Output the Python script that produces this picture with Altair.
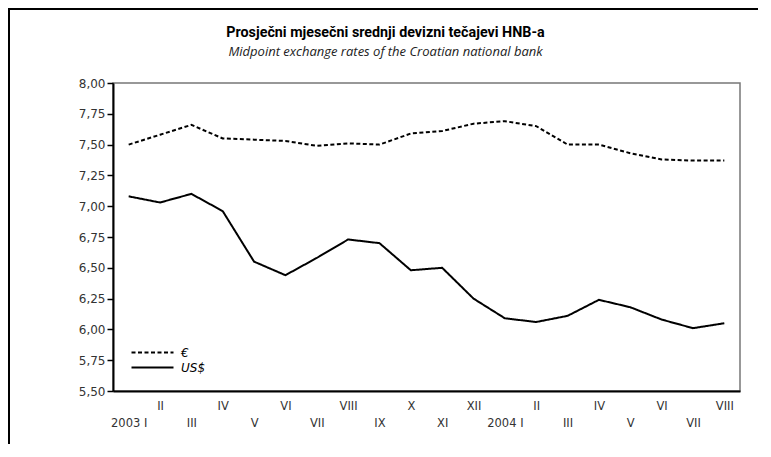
import json
import altair as alt
import pandas as pd

roman = ["I", "II", "III", "IV", "V", "VI", "VII", "VIII", "IX", "X", "XI", "XII"]
years = ["2003"] * 12 + ["2004"] * 8
months = roman + roman[:8]
periods = [f"{y} {m}" for y, m in zip(years, months)]

eur = [7.50, 7.58, 7.66, 7.55, 7.54, 7.53, 7.49, 7.51, 7.50, 7.59,
       7.61, 7.67, 7.69, 7.65, 7.50, 7.50, 7.43, 7.38, 7.37, 7.37]
usd = [7.08, 7.03, 7.10, 6.96, 6.55, 6.44, 6.58, 6.73, 6.70, 6.48,
       6.50, 6.25, 6.09, 6.06, 6.11, 6.24, 6.18, 6.08, 6.01, 6.05]
series_names = ["€", "US$"]
y_ticks = [5.50, 5.75, 6.00, 6.25, 6.50, 6.75, 7.00, 7.25, 7.50, 7.75, 8.00]
title_text = "Prosječni mjesečni srednji devizni tečajevi HNB-a"
subtitle_text = "Midpoint exchange rates of the Croatian national bank"

rows = []
for p, e, u in zip(periods, eur, usd):
    rows.append({"period": p, "series": series_names[0], "value": e})
    rows.append({"period": p, "series": series_names[1], "value": u})
df = pd.DataFrame(rows)

label_map = {}
for i, p in enumerate(periods):
    txt = p if months[i] == "I" else months[i]
    label_map[p] = ["", txt] if i % 2 == 0 else txt
x_label_expr = "(" + json.dumps(label_map, ensure_ascii=False) + ")[datum.value]"

TICK_FONT = "DejaVu Sans"

lines = alt.Chart(df).mark_line(color="black", strokeWidth=2).encode(
    x=alt.X(
        "period:O",
        sort=periods,
        scale=alt.Scale(domain=periods),
        title=None,
        axis=alt.Axis(
            labelExpr=x_label_expr,
            labelAngle=0,
            ticks=False,
            domainWidth=2,
            domainColor="black",
            labelPadding=9,
            labelLineHeight=17.5,
            labelOverlap=False,
            labelFont=TICK_FONT,
            labelFontSize=11.5,
            labelColor="#333",
        ),
    ),
    y=alt.Y(
        "value:Q",
        scale=alt.Scale(domain=[5.5, 8.0], nice=False, zero=False),
        title=None,
        axis=alt.Axis(
            values=y_ticks,
            labelExpr="replace(format(datum.value, '.2f'), '.', ',')",
            grid=False,
            tickSize=6,
            tickColor="black",
            tickWidth=1.5,
            domainWidth=2,
            domainColor="black",
            labelPadding=2,
            labelFont=TICK_FONT,
            labelFontSize=12,
            labelColor="#333",
        ),
    ),
    strokeDash=alt.StrokeDash(
        "series:N",
        scale=alt.Scale(domain=series_names, range=[[4, 2.5], [1, 0]]),
        legend=alt.Legend(
            title=None,
            orient="none",
            legendX=31,
            legendY=261,
            padding=0,
            symbolType="M-2.8,0H2.8",
            symbolSize=225,
            symbolStrokeColor="black",
            symbolStrokeWidth=2,
            rowPadding=0,
            labelFont=TICK_FONT,
            labelFontStyle="italic",
            labelFontSize=12,
            labelColor="black",
            labelOffset=20,
        ),
    ),
)

frame = alt.Chart(alt.Data(values=[{"k": 1}])).mark_rule(color="black", strokeWidth=2).encode(
    x=alt.value(-104), y=alt.value(-74), y2=alt.value(400)
)
frame_top = alt.Chart(alt.Data(values=[{"k": 1}])).mark_rule(color="black", strokeWidth=2).encode(
    x=alt.value(-105), x2=alt.value(700), y=alt.value(-74)
)

title_mark = alt.Chart(alt.Data(values=[{"t": title_text}])).mark_text(
    font="Roboto", fontSize=14.3, fontWeight="bold", color="black",
    align="center", baseline="middle",
).encode(text="t:N", x=alt.value(272.5), y=alt.value(-50))

subtitle_mark = alt.Chart(alt.Data(values=[{"t": subtitle_text}])).mark_text(
    font="Open Sans", fontSize=13, fontStyle="italic", color="#222",
    align="center", baseline="middle",
).encode(text="t:N", x=alt.value(272.5), y=alt.value(-31))

chart = alt.layer(frame, frame_top, title_mark, subtitle_mark, lines).properties(
    width=627,
    height=308,
    autosize=alt.AutoSizeParams(type="none"),
    padding={"left": 105, "top": 75, "right": 18, "bottom": 53},
).configure_view(stroke="#777", strokeWidth=1.5)

chart.save("out.html", embed_options={"renderer": "svg", "actions": False})
